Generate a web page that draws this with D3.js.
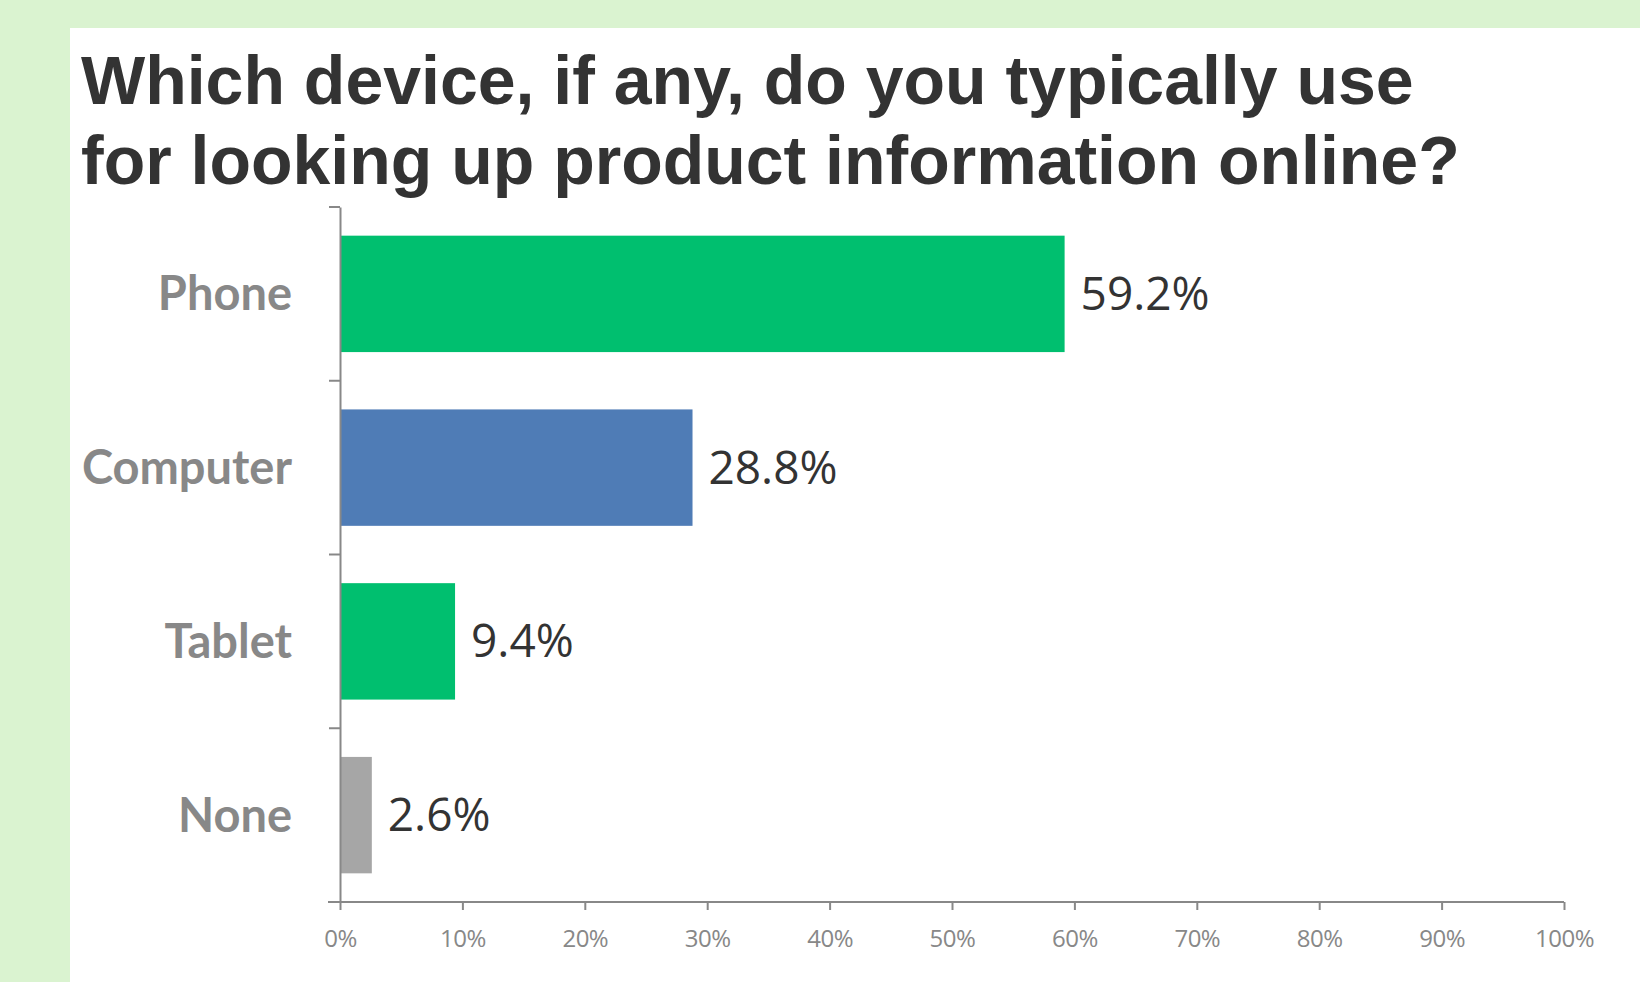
<!DOCTYPE html>
<html>
<head>
<meta charset="utf-8">
<script src="https://cdn.jsdelivr.net/npm/d3@7"></script>
<style>
  body { margin: 0; background: #daf3d0; }
  svg { display: block; }
</style>
</head>
<body>
<div id="chart"></div>
<script>
// data
const categories = ['Phone', 'Computer', 'Tablet', 'None'];
const values = [59.2, 28.8, 9.4, 2.6];
const barColors = ['#00bf6f', '#4f7cb6', '#00bf6f', '#a6a6a6'];
const xTicks = [0, 10, 20, 30, 40, 50, 60, 70, 80, 90, 100];
const titleLines = ['Which device, if any, do you typically use', 'for looking up product information online?'];

const W = 1640, H = 982;
const margin = { top: 207, left: 340, right: 76, bottom: 80 };

const svg = d3.select('#chart').append('svg')
  .attr('width', W)
  .attr('height', H);

// white panel
svg.append('rect')
  .attr('x', 70).attr('y', 28)
  .attr('width', W - 70).attr('height', H - 28)
  .attr('fill', '#fff');

// title
svg.append('g').selectAll('text')
  .data(titleLines)
  .enter().append('text')
  .attr('x', 81)
  .attr('y', (d, i) => 104 + i * 80)
  .attr('font-family', 'Liberation Sans, Arial, sans-serif')
  .attr('font-weight', 'bold')
  .attr('font-size', 68)
  .attr('fill', '#333')
  .text(d => d);

const x = d3.scaleLinear().domain([0, 100]).range([margin.left, W - margin.right]);
const y = d3.scaleBand().domain(categories).range([margin.top, 902]).paddingInner(0.33).paddingOuter(0.165);
const yAxisScale = d3.scaleBand().domain(categories).range([margin.top, 902]);

// bars
svg.append('g').selectAll('rect')
  .data(categories)
  .enter().append('rect')
  .attr('x', x(0))
  .attr('y', d => y(d))
  .attr('width', (d, i) => x(values[i]) - x(0))
  .attr('height', y.bandwidth())
  .attr('fill', (d, i) => barColors[i]);

// value labels
svg.append('g').selectAll('text')
  .data(categories)
  .enter().append('text')
  .attr('x', (d, i) => x(values[i]) + 16)
  .attr('y', d => y(d) + y.bandwidth() / 2)
  .attr('dy', '0.35em')
  .attr('font-family', 'Open Sans, sans-serif')
  .attr('font-size', 46)
  .attr('fill', '#333')
  .text((d, i) => values[i].toFixed(1) + '%');

// y axis
const yAxis = svg.append('g')
  .attr('transform', `translate(${x(0)},0)`)
  .call(d3.axisLeft(yAxisScale).tickSize(0).tickFormat(''));
yAxis.select('.domain').attr('stroke', '#888').attr('stroke-width', 2);
// boundary ticks between categories
yAxis.selectAll('.bound')
  .data(categories.concat(['end']))
  .enter().append('line')
  .attr('class', 'bound')
  .attr('x1', -11).attr('x2', 0)
  .attr('y1', (d, i) => margin.top + i * yAxisScale.step())
  .attr('y2', (d, i) => margin.top + i * yAxisScale.step())
  .attr('stroke', '#888').attr('stroke-width', 2);

// category labels
svg.append('g').selectAll('text')
  .data(categories)
  .enter().append('text')
  .attr('x', 292)
  .attr('y', d => yAxisScale(d) + yAxisScale.bandwidth() / 2)
  .attr('dy', '0.35em')
  .attr('text-anchor', 'end')
  .attr('font-family', 'Lato, sans-serif')
  .attr('font-weight', 'bold')
  .attr('font-size', 47)
  .attr('fill', '#888')
  .text(d => d);

// x axis
const xAxis = svg.append('g')
  .attr('transform', 'translate(0,902)')
  .call(d3.axisBottom(x).tickValues(xTicks).tickSize(8).tickSizeOuter(0).tickPadding(20).tickFormat(d => d + '%'));
xAxis.select('.domain').attr('stroke', '#888').attr('stroke-width', 2)
  .attr('d', `M${x(0) - 12},0H${x(100)}`);
xAxis.selectAll('.tick line').attr('stroke', '#888').attr('stroke-width', 2);
xAxis.selectAll('.tick text')
  .attr('font-family', 'Open Sans, sans-serif')
  .attr('font-size', 24)
  .attr('letter-spacing', -0.5)
  .attr('fill', '#888');
</script>
</body>
</html>
